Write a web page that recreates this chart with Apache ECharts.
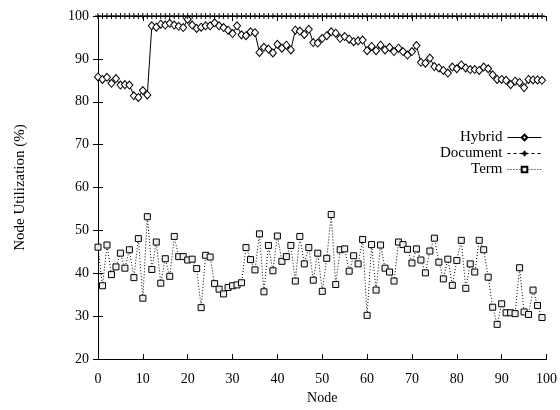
<!DOCTYPE html>
<html>
<head>
<meta charset="utf-8">
<script src="https://cdn.jsdelivr.net/npm/echarts@6/dist/echarts.min.js"></script>
<style>
  html, body { margin: 0; padding: 0; background: #fff; }
  #chart { width: 560px; height: 410px; }
</style>
</head>
<body>
<div id="chart"></div>
<script>
// Per-node utilization (%) for nodes 0..99 under each partitioning scheme
const hybrid = [
  85.8, 85.2, 85.7, 84.3, 85.4, 83.9, 84.0, 83.9, 81.4, 81.0,
  82.6, 81.6, 97.7, 97.4, 98.1, 97.9, 98.3, 97.9, 97.6, 97.3,
  99.2, 97.9, 97.1, 97.4, 97.7, 97.7, 98.4, 97.7, 97.3, 96.7,
  95.9, 97.7, 95.6, 95.4, 96.3, 96.1, 91.5, 92.7, 92.3, 91.4,
  93.4, 92.5, 93.2, 92.1, 96.7, 96.5, 95.7, 96.9, 93.8, 93.7,
  94.8, 95.4, 96.3, 96.0, 94.8, 95.2, 94.6, 94.0, 94.2, 94.4,
  91.9, 92.9, 91.9, 93.2, 92.1, 92.7, 91.7, 92.5, 91.7, 90.9,
  91.7, 93.1, 89.2, 89.0, 90.2, 88.2, 87.9, 87.3, 86.7, 88.1,
  87.7, 88.6, 87.9, 87.5, 87.5, 87.3, 88.1, 87.7, 86.3, 85.2,
  85.2, 85.0, 84.0, 84.8, 84.5, 83.3, 85.2, 85.1, 85.1, 85.0
];
const documentUtil = new Array(100).fill(100);
const term = [
  46.1, 37.1, 46.6, 39.7, 41.5, 44.7, 41.2, 45.5, 39.0, 48.1,
  34.2, 53.2, 40.9, 47.3, 37.7, 43.4, 39.3, 48.6, 43.9, 43.9,
  43.1, 43.3, 41.1, 32.0, 44.2, 43.8, 37.6, 36.3, 35.2, 36.7,
  37.1, 37.3, 37.8, 46.0, 43.2, 40.8, 49.2, 35.7, 46.5, 40.6,
  48.7, 42.8, 43.9, 46.5, 38.2, 48.6, 42.2, 46.0, 38.4, 44.7,
  35.8, 43.5, 53.7, 37.4, 45.5, 45.7, 40.5, 44.1, 42.2, 47.9,
  30.2, 46.7, 36.1, 46.6, 41.2, 40.3, 38.2, 47.3, 46.7, 45.6,
  42.4, 45.7, 43.1, 40.1, 45.2, 48.2, 42.6, 38.7, 43.3, 37.2,
  43.0, 47.7, 36.5, 42.2, 40.3, 47.7, 45.5, 39.1, 32.1, 28.1,
  32.9, 30.8, 30.8, 30.6, 41.3, 31.0, 30.4, 36.1, 32.5, 29.7
];
const xTicks = { min: 0, max: 100, step: 10 };
const yTicks = { min: 20, max: 100, step: 10 };

const pairs = arr => arr.map((v, i) => [i, v]);
const font = 'Liberation Serif, Times New Roman, serif';
const plusPath = 'path://M0,5 L10,5 M5,0 L5,10';

const chart = echarts.init(document.getElementById('chart'), null, { renderer: 'canvas' });

const frameAxis = {
  axisLine: { show: true, lineStyle: { color: '#000', width: 1 } },
  axisTick: { show: true, inside: true, length: 5, lineStyle: { color: '#000' } },
  splitLine: { show: false }
};

chart.setOption({
  animation: false,
  backgroundColor: '#fff',
  textStyle: { fontFamily: font },
  grid: { left: 98, right: 11, top: 16, bottom: 46 },
  legend: {
    right: 13,
    top: 125,
    orient: 'vertical',
    align: 'right',
    itemWidth: 34,
    itemHeight: 7,
    itemGap: 1,
    lineStyle: { width: 1 },
    textStyle: { fontFamily: font, fontSize: 15, lineHeight: 15, color: '#000' },
    data: ['Hybrid', 'Document', 'Term']
  },
  xAxis: [
    Object.assign({
      type: 'value', min: xTicks.min, max: xTicks.max, interval: xTicks.step,
      name: 'Node', nameLocation: 'middle', nameGap: 31,
      nameTextStyle: { fontFamily: font, fontSize: 14, color: '#000' },
      axisLabel: { fontFamily: font, fontSize: 14, color: '#000', margin: 13 }
    }, frameAxis),
    Object.assign({
      type: 'value', min: xTicks.min, max: xTicks.max, interval: xTicks.step,
      position: 'top', axisLabel: { show: false }
    }, frameAxis)
  ],
  yAxis: [
    Object.assign({
      type: 'value', min: yTicks.min, max: yTicks.max, interval: yTicks.step,
      name: 'Node Utilization (%)', nameLocation: 'middle', nameGap: 70,
      nameTextStyle: { fontFamily: font, fontSize: 15, color: '#000' },
      axisLabel: { fontFamily: font, fontSize: 14, color: '#000', margin: 9 }
    }, frameAxis),
    Object.assign({
      type: 'value', min: yTicks.min, max: yTicks.max, interval: yTicks.step,
      position: 'right', axisLabel: { show: false }
    }, frameAxis)
  ],
  series: [
    {
      name: 'Hybrid', type: 'line', data: pairs(hybrid),
      symbol: 'diamond', symbolSize: [7, 8], showAllSymbol: true,
      lineStyle: { color: '#000', width: 1, type: 'solid' },
      itemStyle: { color: '#fff', borderColor: '#000', borderWidth: 1 },
      z: 3
    },
    {
      name: 'Document', type: 'line', data: pairs(documentUtil),
      symbol: plusPath, symbolSize: 6, showAllSymbol: true,
      lineStyle: { color: '#000', width: 1, type: [3, 3] },
      itemStyle: { color: '#000', borderColor: '#000', borderWidth: 1 },
      z: 4
    },
    {
      name: 'Term', type: 'line', data: pairs(term),
      symbol: 'rect', symbolSize: 6, showAllSymbol: true,
      lineStyle: { color: '#000', width: 1, type: [1, 2] },
      itemStyle: { color: '#eee', borderColor: '#000', borderWidth: 1 },
      z: 3
    }
  ]
});
</script>
</body>
</html>
